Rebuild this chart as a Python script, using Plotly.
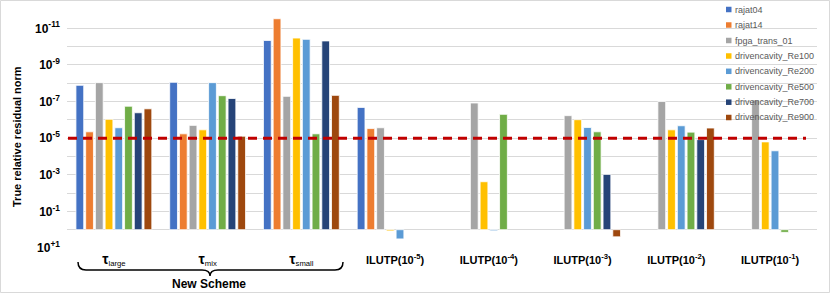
import plotly.graph_objects as go

categories = ["<b><span style='font-size:14px'>τ</span></b><sub>large</sub>",
              "<b><span style='font-size:14px'>τ</span></b><sub>mix</sub>",
              "<b><span style='font-size:14px'>τ</span></b><sub>small</sub>",
              "<b>ILUTP(10<sup>-5</sup>)</b>", "<b>ILUTP(10<sup>-4</sup>)</b>", "<b>ILUTP(10<sup>-3</sup>)</b>",
              "<b>ILUTP(10<sup>-2</sup>)</b>", "<b>ILUTP(10<sup>-1</sup>)</b>"]

series_names = ["rajat04", "rajat14", "fpga_trans_01", "drivencavity_Re100", "drivencavity_Re200",
                "drivencavity_Re500", "drivencavity_Re700", "drivencavity_Re900"]

rajat04 = [1.3e-8, 8.9e-9, 4.6e-11, 2.1e-7, None, None, None, None]
rajat14 = [4.5e-6, 5.8e-6, 3.0e-12, 3.0e-6, None, None, None, None]
fpga_trans_01 = [9.3e-9, 2.0e-6, 5.2e-8, 2.7e-6, 1.2e-7, 5.9e-7, 1.0e-7, 8.3e-8]
re100 = [9.3e-7, 3.5e-6, 3.4e-11, 1.17, 2.4e-3, 9.8e-7, 3.5e-6, 1.6e-5]
re200 = [2.7e-6, 9.3e-9, 4.0e-11, 3.2, 1.15, 2.6e-6, 2.1e-6, 4.9e-5]
re500 = [1.8e-7, 4.8e-8, 5.8e-6, None, 5.0e-7, 4.5e-6, 4.7e-6, 1.4]
re700 = [4.1e-7, 6.8e-8, 4.9e-11, None, None, 9.5e-4, 1.2e-5, None]
re900 = [2.5e-7, 7.8e-6, 4.6e-8, None, None, 2.45, 2.8e-6, None]

series_values = [rajat04, rajat14, fpga_trans_01, re100, re200, re500, re700, re900]
colors = ["#4472C4", "#ED7D31", "#A5A5A5", "#FFC000", "#5B9BD5", "#70AD47", "#264478", "#9E480E"]

threshold = 1e-5
baseline = 1.0

label_exps = [-11, -9, -7, -5, -3, -1, 1]
grid_exps = [-12, -10, -8, -6, -4, -2, 0]
y_tickvals = [10.0 ** e for e in label_exps]
y_ticktext = ["<b>10<sup>%s%d</sup></b>" % ("+" if e > 0 else "", e) for e in label_exps]
y_minorvals = [10.0 ** e for e in grid_exps]

W, H = 830, 293
L, R, T, B = 67, 13, 10, 45
PW, PH = W - L - R, H - T - B


def px(x):
    return (x - L) / PW


def py(y):
    return (H - B - y) / PH


fig = go.Figure()
for name, vals, col in zip(series_names, series_values, colors):
    fig.add_trace(go.Bar(
        x=categories,
        y=[None if v is None else v - baseline for v in vals],
        base=baseline,
        name=name,
        marker=dict(color=col, line=dict(color="white", width=0.8)),
        showlegend=False,
    ))

fig.add_trace(go.Scatter(
    x=[px(68), px(806)], y=[threshold, threshold], xaxis="x2", yaxis="y",
    mode="lines", line=dict(color="#C00000", width=3, dash="9px,6px"), showlegend=False,
))

shapes = []
annotations = []
# manual legend
leg_y = [9.5, 25, 40.5, 56, 71.3, 86.8, 102.2, 117.5]
for name, col, yy in zip(series_names, colors, leg_y):
    shapes.append(dict(type="rect", xref="paper", yref="paper",
                       x0=px(726), x1=px(731.5), y0=py(yy + 2.75), y1=py(yy - 2.75),
                       fillcolor=col, line=dict(width=0)))
    annotations.append(dict(text=name, xref="paper", yref="paper", x=px(733), y=py(yy),
                            xanchor="left", yanchor="middle", showarrow=False,
                            font=dict(size=9, color="#595959", family="Liberation Sans")))

# brace under the new-scheme groups
pts = [(78, 262), (78, 270), (86, 270), (202, 270), (210, 270), (210, 276), (210, 270), (218, 270),
       (335, 270), (343, 270), (343, 262)]
p = ["M %f,%f" % (px(pts[0][0]), py(pts[0][1])),
     "Q %f,%f %f,%f" % (px(pts[1][0]), py(pts[1][1]), px(pts[2][0]), py(pts[2][1])),
     "L %f,%f" % (px(pts[3][0]), py(pts[3][1])),
     "Q %f,%f %f,%f" % (px(pts[4][0]), py(pts[4][1]), px(pts[5][0]), py(pts[5][1])),
     "Q %f,%f %f,%f" % (px(pts[6][0]), py(pts[6][1]), px(pts[7][0]), py(pts[7][1])),
     "L %f,%f" % (px(pts[8][0]), py(pts[8][1])),
     "Q %f,%f %f,%f" % (px(pts[9][0]), py(pts[9][1]), px(pts[10][0]), py(pts[10][1]))]
shapes.append(dict(type="path", xref="paper", yref="paper", path=" ".join(p),
                   line=dict(color="black", width=1.5)))
annotations.append(dict(text="<b>New Scheme</b>", xref="paper", yref="paper", x=px(209), y=py(284),
                        xanchor="center", yanchor="middle", showarrow=False,
                        font=dict(size=12, color="black", family="Liberation Sans")))
annotations.append(dict(text="<b>True relative residual norm</b>", xref="paper", yref="paper",
                        x=px(17), y=py(137), textangle=-90, xanchor="center", yanchor="middle",
                        showarrow=False, font=dict(size=11, color="black", family="Liberation Sans")))
# chart border
shapes.append(dict(type="rect", xref="paper", yref="paper", x0=px(0.5), x1=px(829.5), y0=py(292.5), y1=py(0.5),
                   line=dict(color="#D9D9D9", width=1), fillcolor="rgba(0,0,0,0)"))

fig.update_layout(
    width=W, height=H,
    margin=dict(l=L, r=R, t=T, b=B),
    paper_bgcolor="white", plot_bgcolor="white",
    barmode="group", bargap=0.17, bargroupgap=0.2,
    font=dict(family="Liberation Sans", color="black"),
    xaxis=dict(type="category", showgrid=False, showline=False, ticks="", ticklabelstandoff=4,
               tickfont=dict(size=11, color="black")),
    xaxis2=dict(overlaying="x", range=[0, 1], visible=False),
    yaxis=dict(type="log", range=[1, -12], tickmode="array", tickvals=y_tickvals, ticktext=y_ticktext,
               showgrid=True, gridcolor="#D9D9D9", gridwidth=1, zeroline=False, showline=False,
               ticks="", ticklabelstandoff=6, tickfont=dict(size=12, color="black"),
               minor=dict(tickmode="array", tickvals=y_minorvals, showgrid=True,
                          gridcolor="#D9D9D9", gridwidth=1, ticks="")),
    shapes=shapes, annotations=annotations,
)

fig.write_html("out.html", config={"displayModeBar": False},
               post_script="document.body.style.margin='0';document.body.style.overflow='hidden';")
